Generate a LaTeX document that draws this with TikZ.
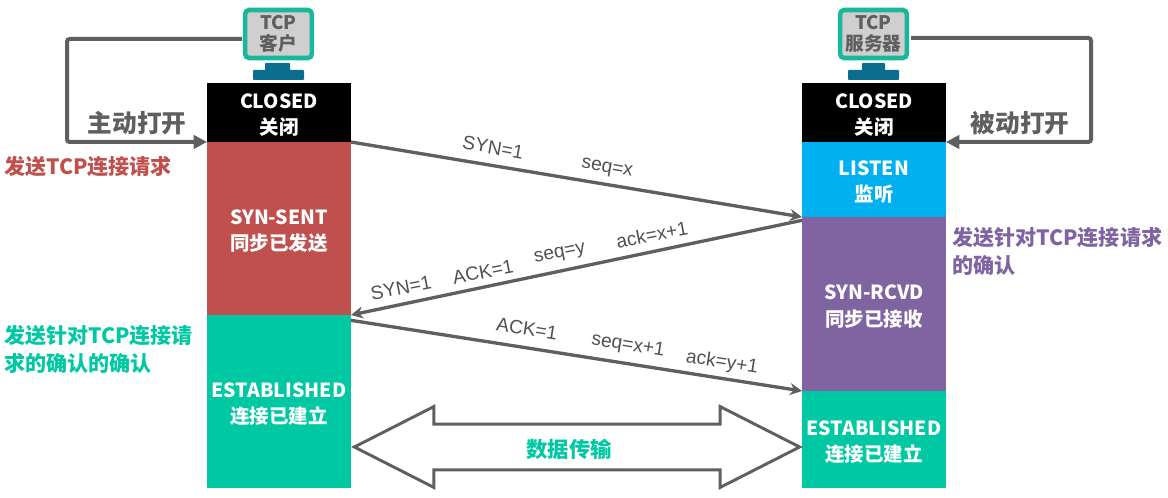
\documentclass[tikz,border=0pt]{standalone}
\usepackage{fontspec}
\setmainfont{Noto Sans CJK SC}
\newfontfamily\labelfont{Liberation Sans}
\usetikzlibrary{arrows.meta,shapes.arrows}

\definecolor{flowgray}{HTML}{5F5F5F}
\definecolor{sentred}{HTML}{C0504D}
\definecolor{estgreen}{HTML}{00C8A3}
\definecolor{listenblue}{HTML}{00B0F0}
\definecolor{rcvdpurple}{HTML}{8064A2}
\definecolor{screengreen}{HTML}{17B99A}
\definecolor{screengray}{HTML}{D0CECE}
\definecolor{standblue}{HTML}{0B6E8F}

\newcommand{\statetop}{\rule{0pt}{15pt}}

\tikzset{
  statebox/.style={inner sep=0pt,outer sep=0pt,minimum width=108pt,align=center,
    text=white,font=\fontsize{14.6}{20}\selectfont\bfseries},
  screen/.style={draw=screengreen,line width=3.4pt,fill=screengray,rounded corners=3pt,
    inner sep=0pt,minimum width=50pt,minimum height=36pt,align=center,text=flowgray,
    font=\fontsize{14}{15.5}\selectfont\bfseries},
  stand/.style={fill=standblue,inner sep=0pt,outer sep=0pt,rounded corners=.6pt},
  loopflow/.style={draw=flowgray,line width=3pt,rounded corners=2pt,
    -{Triangle[length=10pt,width=10pt]}},
  msgflow/.style={draw=flowgray,line width=2.5pt,-{Stealth[length=9pt,width=9pt]}},
  msg/.style={inner sep=0pt,text=flowgray!85!black,font=\labelfont\fontsize{14.4}{16}\selectfont},
  opening/.style={inner sep=0pt,text=flowgray,font=\fontsize{18.5}{22}\selectfont\bfseries},
  note/.style={inner sep=0pt,anchor=west,align=left,font=\fontsize{15.8}{21}\selectfont\bfseries},
}

\begin{document}
\begin{tikzpicture}[x=.75pt,y=-.75pt]
  \useasboundingbox (0,0) rectangle (1168,498);

  % left column
  \node[statebox,fill=black,minimum height=44.25pt] (closedl) at (279,112.5) {\statetop CLOSED\\关闭};
  \node[statebox,fill=sentred,minimum height=129.75pt] (sent) at (279,228.5) {\statetop SYN-SENT\\同步已发送};
  \node[statebox,fill=estgreen,minimum height=129.75pt] (estl) at (279,401.5) {\statetop ESTABLISHED\\连接已建立};

  % right column
  \node[statebox,fill=black,minimum height=44.25pt] (closedr) at (874,112.5) {\statetop CLOSED\\关闭};
  \node[statebox,fill=listenblue,minimum height=56.25pt] (listen) at (874,179.5) {\statetop LISTEN\\监听};
  \node[statebox,fill=rcvdpurple,minimum height=130.5pt] (rcvd) at (874,304) {\statetop SYN-RCVD\\同步已接收};
  \node[statebox,fill=estgreen,minimum height=72.75pt] (estr) at (874,439.5) {\statetop ESTABLISHED\\连接已建立};

  % computers
  \node[screen] (client) at (278.5,34) {TCP\\客户};
  \node[stand,minimum width=18.75pt,minimum height=6pt] (clientneck) at (277.5,67) {};
  \node[stand,minimum width=38.25pt,minimum height=7.5pt] (clientbase) at (278.5,75) {};
  \node[screen] (server) at (873.5,34) {TCP\\服务器};
  \node[stand,minimum width=17.25pt,minimum height=6pt] (serverneck) at (873.5,67) {};
  \node[stand,minimum width=38.25pt,minimum height=7.5pt] (serverbase) at (873.5,75) {};

  % opening the connection
  \coordinate (clientout) at (242,39);
  \coordinate (serverout) at (911,38);
  \coordinate (clientbend) at (67,39);
  \coordinate (serverbend) at (1091,38);
  \draw[loopflow] (clientout) -- (clientbend) |- (closedl.south west);
  \draw[loopflow] (serverout) -- (serverbend) |- (closedr.south east);
  \node[opening] (activeopen) at (137,123) {主动打开};
  \node[opening] (passiveopen) at (1020,123) {被动打开};

  % handshake
  \draw[msgflow] (closedl.south east) -- (listen.south west);
  \draw[msgflow] ([yshift=-2.5pt]rcvd.north west) -- (estl.north east);
  \draw[msgflow] ([yshift=-4pt]estl.north east) -- (estr.north west);

  \node[msg,rotate=-10] (syna) at (493,147.5) {SYN=1};
  \node[msg,rotate=-10] (seqa) at (607,169) {seq=x};
  \node[msg,rotate=11] (synb) at (401,288) {SYN=1};
  \node[msg,rotate=11] (ackb) at (483,272) {ACK=1};
  \node[msg,rotate=11] (seqb) at (560,254) {seq=y};
  \node[msg,rotate=11] (ackvalb) at (652,235) {ack=x+1};
  \node[msg,rotate=-9] (ackc) at (527,329) {ACK=1};
  \node[msg,rotate=-9] (seqc) at (628,346) {seq=x+1};
  \node[msg,rotate=-9] (ackvalc) at (722,363) {ack=y+1};

  % data transfer
  \node[double arrow,draw=flowgray,line width=2.2pt,inner sep=0pt,minimum height=334pt,
    double arrow head extend=13.2pt,double arrow tip angle=53.9] (transfer) at (577,447) {\rule[-16pt]{0pt}{32pt}};
  \node[inner sep=0pt,text=estgreen,font=\fontsize{16}{18}\selectfont\bfseries] (transferlabel) at (569,449) {数据传输};

  % notes
  \node[note,text=sentred] (synnote) at (4,167) {发送TCP连接请求};
  \node[note,text=rcvdpurple] (rcvdnote) at (952,251) {发送针对TCP连接请求\\的确认};
  \node[note,text=estgreen] (acknote) at (4,349) {发送针对TCP连接请\\求的确认的确认};
\end{tikzpicture}
\end{document}
